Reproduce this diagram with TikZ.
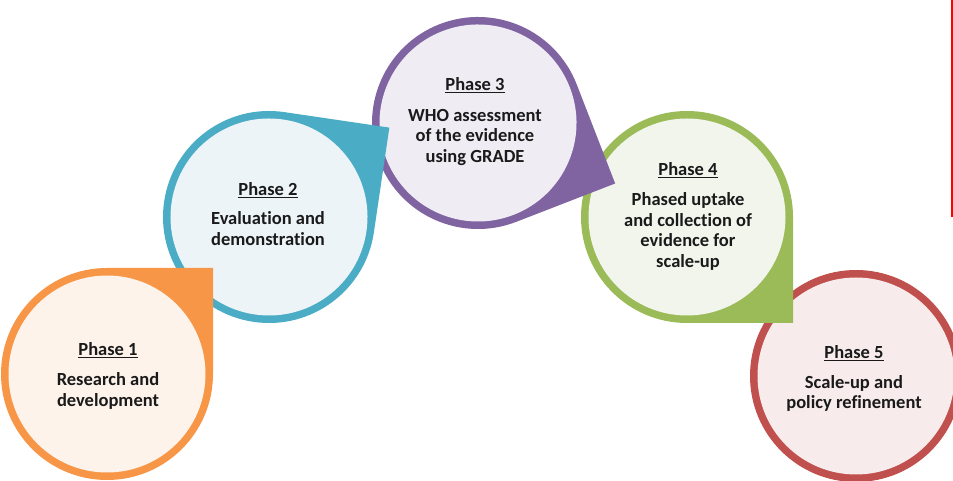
\documentclass[tikz,border=0pt]{standalone}
\usepackage{fontspec}
\setmainfont{Carlito}[Ligatures=NoCommon]
\definecolor{ringorange}{RGB}{247,150,70}
\definecolor{fillorange}{RGB}{253,243,234}
\definecolor{ringblue}{RGB}{75,172,198}
\definecolor{fillblue}{RGB}{236,244,248}
\definecolor{ringpurple}{RGB}{128,100,162}
\definecolor{fillpurple}{RGB}{239,237,243}
\definecolor{ringgreen}{RGB}{155,187,89}
\definecolor{fillgreen}{RGB}{242,245,236}
\definecolor{ringred}{RGB}{192,80,77}
\definecolor{fillred}{RGB}{247,235,235}
\definecolor{textdark}{RGB}{26,26,26}
% droplet: centre x, centre y, direction of the pointed corner, ring colour, inner colour
\newcommand\droplet[5]{%
  \begin{scope}[shift={(#1,#2)}, rotate=#3-45]
    \fill[#4] (0,106) arc[start angle=90, end angle=360, radius=106]
      -- (106,106) -- cycle;
    \fill[#5] (0,0) circle[radius=98.5];
  \end{scope}}
\begin{document}
\begin{tikzpicture}[x=1pt, y=1pt,
  phasetext/.style={font=\bfseries\fontsize{18.5}{20.8}\selectfont,
    align=center, text=textdark, inner sep=0pt}]
\useasboundingbox (0,0) rectangle (953,481);
\begin{scope}
  \clip (0,0) rectangle (953,481);
  % later phases lie underneath earlier ones
  \fill[ringred] (856,105) circle[radius=106];
  \fill[fillred] (856,105) circle[radius=98.5];
  \droplet{687}{264}{-45}{ringgreen}{fillgreen}
  \droplet{478}{358}{-23.8}{ringpurple}{fillpurple}
  \droplet{269}{264}{36.6}{ringblue}{fillblue}
  \droplet{107}{107}{45}{ringorange}{fillorange}
\end{scope}

\node[phasetext] (p1) at (108,105)
  {\underline{Phase 1}\\[9pt]Research and\\development};
\node[phasetext] (p2) at (268,267)
  {\underline{Phase 2}\\[8pt]Evaluation and\\demonstration};
\node[phasetext] (p3) at (475,359.5)
  {\underline{Phase 3}\\[10pt]WHO assessment\\of the evidence\\using GRADE};
\node[phasetext] (p4) at (688,264.5)
  {\underline{Phase 4}\\[9pt]Phased uptake\\and collection of\\evidence for\\scale-up};
\node[phasetext] (p5) at (854,102.5)
  {\underline{Phase 5}\\[9pt]Scale-up and\\policy refinement};

% thin red rule along the right edge
\coordinate (rtop) at (952,481);
\coordinate (rbot) at (952,264);
\draw[red, line width=1.6pt] (rtop) -- (rbot);
\end{tikzpicture}
\end{document}
